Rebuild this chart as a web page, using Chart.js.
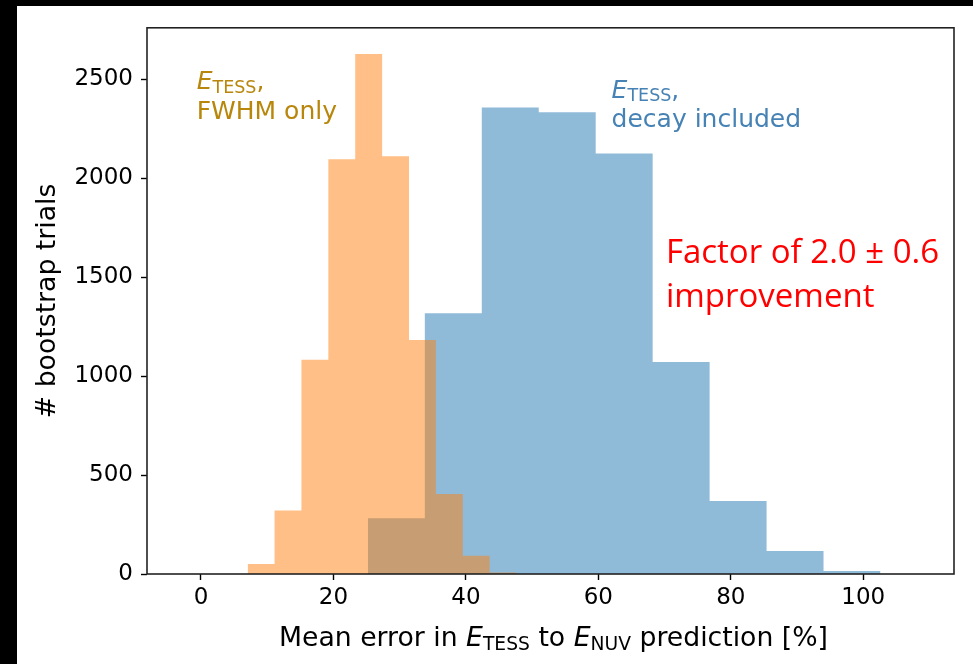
<!DOCTYPE html>
<html>
<head>
<meta charset="utf-8">
<script src="https://cdn.jsdelivr.net/npm/chart.js@4.4.1/dist/chart.umd.min.js"></script>
<style>
  html, body { margin: 0; padding: 0; background: #000; }
  #wrap { position: absolute; left: 17px; top: 6px; width: 956px; height: 658px; background: #fff; }
</style>
</head>
<body>
<div id="wrap"><canvas id="hist"></canvas></div>
<script>
// bin edges and counts of the two bootstrap histograms
const fwhmEdges = [7.05, 11.11, 15.17, 19.23, 23.29, 27.35, 31.41, 35.47, 39.53, 43.59, 47.65];
const fwhmCounts = [50, 321, 1083, 2096, 2627, 2111, 1183, 404, 92, 8];
const decayEdges = [25.2, 33.8, 42.4, 51.0, 59.6, 68.2, 76.8, 85.4, 94.0, 102.6];
const decayCounts = [282, 1318, 2357, 2333, 2125, 1071, 369, 116, 15];

const xTicks = [0, 20, 40, 60, 80, 100];
const yTicks = [0, 500, 1000, 1500, 2000, 2500];

const MPL_FONT = "'DejaVu Sans', sans-serif";

// step outline: each count holds from its left edge to the next edge
function stepPoints(edges, counts) {
    const pts = counts.map((c, i) => ({ x: edges[i], y: c }));
    pts.push({ x: edges[edges.length - 1], y: counts[counts.length - 1] });
    return pts;
}

// text made of runs: plain, italic, or subscript
function runFont(r, size) {
    const s = r.sub ? size * 0.7 : size;
    return (r.it ? 'italic ' : '') + s + 'px ' + MPL_FONT;
}
function richWidth(ctx, runs, size) {
    let w = 0;
    runs.forEach(r => { ctx.font = runFont(r, size); w += ctx.measureText(r.t).width; });
    return w;
}
function richText(ctx, runs, x, y, size, color) {
    let cx = x;
    ctx.fillStyle = color;
    ctx.textBaseline = 'alphabetic';
    ctx.textAlign = 'left';
    runs.forEach(r => {
        ctx.font = runFont(r, size);
        ctx.fillText(r.t, cx, r.sub ? y + size * 0.15 : y);
        cx += ctx.measureText(r.t).width;
    });
}

const decorations = {
    id: 'decorations',
    afterDraw(chart) {
        const { ctx, chartArea: a, scales: { x, y } } = chart;
        ctx.save();
        // frame around the axes
        ctx.strokeStyle = '#222';
        ctx.lineWidth = 1.6;
        ctx.strokeRect(a.left, a.top, a.right - a.left, a.bottom - a.top);

        // axis titles
        const titleSize = 26.7;
        ctx.fillStyle = '#000';
        ctx.font = titleSize + 'px ' + MPL_FONT;
        ctx.save();
        ctx.translate(a.left - 99, (a.top + a.bottom) / 2);
        ctx.rotate(-Math.PI / 2);
        ctx.textAlign = 'center';
        ctx.textBaseline = 'middle';
        ctx.fillText('# bootstrap trials', 0, 0);
        ctx.restore();

        const xTitle = [
            { t: 'Mean error in ' }, { t: 'E', it: true }, { t: 'TESS', sub: true },
            { t: ' to ' }, { t: 'E', it: true }, { t: 'NUV', sub: true },
            { t: ' prediction [%]' }
        ];
        const tw = richWidth(ctx, xTitle, titleSize);
        richText(ctx, xTitle, (a.left + a.right) / 2 - tw / 2 + 3, a.bottom + 72, titleSize, '#000');

        // labels for each histogram
        const lh = 29.5, ls = 25;
        let px = x.getPixelForValue(-0.65), py = y.getPixelForValue(2449);
        richText(ctx, [{ t: 'E', it: true }, { t: 'TESS', sub: true }, { t: ',' }], px, py, ls, '#b8860b');
        richText(ctx, [{ t: 'FWHM only' }], px, py + lh, ls, '#b8860b');

        px = x.getPixelForValue(62.0); py = y.getPixelForValue(2407);
        richText(ctx, [{ t: 'E', it: true }, { t: 'TESS', sub: true }, { t: ',' }], px, py, ls, '#4682b4');
        richText(ctx, [{ t: 'decay included' }], px, py + lh, ls, '#4682b4');

        px = x.getPixelForValue(70.2); py = y.getPixelForValue(1572);
        ctx.fillStyle = '#ff0000';
        ctx.font = "33px 'Open Sans', 'Noto Sans', sans-serif";
        ctx.textAlign = 'left';
        ctx.textBaseline = 'alphabetic';
        ctx.fillText('Factor of 2.0 \u00b1 0.6', px, py);
        ctx.fillText('improvement', px, py + 44);
        ctx.restore();
    }
};

new Chart(document.getElementById('hist'), {
    type: 'line',
    data: {
        datasets: [
            {
                label: 'FWHM only',
                data: stepPoints(fwhmEdges, fwhmCounts),
                stepped: 'before',
                fill: 'origin',
                backgroundColor: 'rgba(255, 127, 14, 0.5)',
                borderWidth: 0,
                pointRadius: 0,
                order: 0
            },
            {
                label: 'decay included',
                data: stepPoints(decayEdges, decayCounts),
                stepped: 'before',
                fill: 'origin',
                backgroundColor: 'rgba(31, 119, 180, 0.5)',
                borderWidth: 0,
                pointRadius: 0,
                order: 1
            }
        ]
    },
    options: {
        responsive: true,
        maintainAspectRatio: false,
        animation: false,
        layout: { padding: { top: 20, right: 19, left: 0, bottom: 0 } },
        plugins: { legend: { display: false }, tooltip: { enabled: false } },
        scales: {
            x: {
                type: 'linear',
                min: -8.15,
                max: 113.7,
                afterBuildTicks: s => { s.ticks = xTicks.map(v => ({ value: v })); },
                afterFit: s => { s.height = 90; },
                grid: { drawOnChartArea: false, tickLength: 6, tickColor: '#000', tickWidth: 1.4 },
                border: { display: false },
                ticks: { font: { family: MPL_FONT, size: 23 }, color: '#000', padding: 4, maxRotation: 0, callback: v => String(v) }
            },
            y: {
                min: 0,
                max: 2760,
                afterBuildTicks: s => { s.ticks = yTicks.map(v => ({ value: v })); },
                afterFit: s => { s.width = 130; },
                grid: { drawOnChartArea: false, tickLength: 6, tickColor: '#000', tickWidth: 1.4 },
                border: { display: false },
                ticks: { font: { family: MPL_FONT, size: 23 }, color: '#000', padding: 8, callback: v => String(v) }
            }
        }
    },
    plugins: [decorations]
});
</script>
</body>
</html>
